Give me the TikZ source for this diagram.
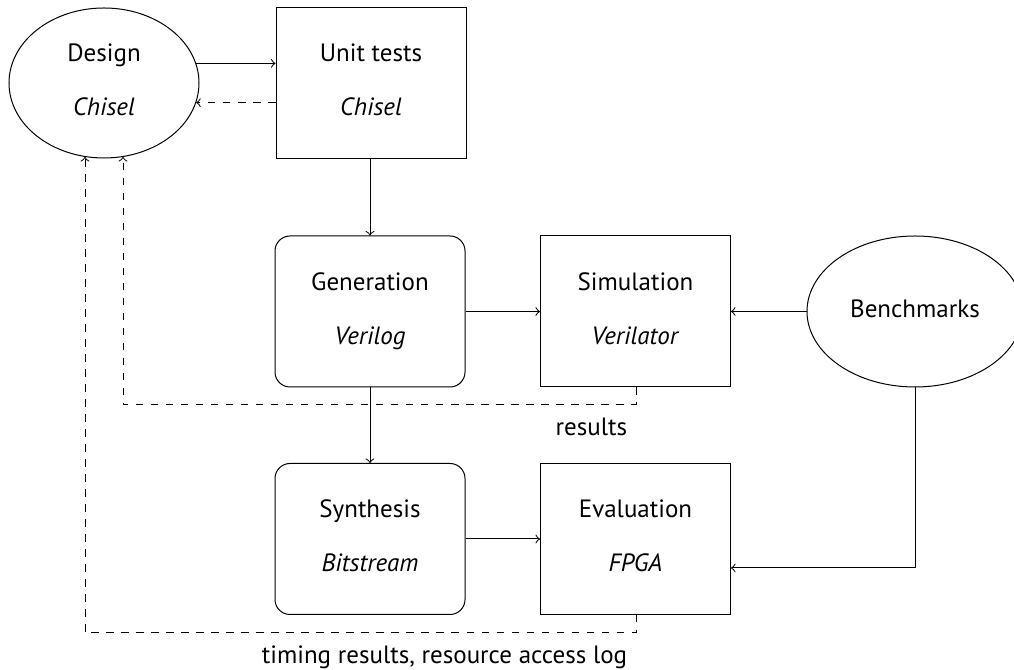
\documentclass[tikz,border=0pt]{standalone}
\usepackage{fontspec}
\setmainfont{PT Sans}
\usetikzlibrary{shapes.geometric,calc}
\begin{document}
\begin{tikzpicture}[x=0.4pt,y=-0.4pt,
  base/.style={draw,align=center,minimum width=76pt,minimum height=60.4pt,inner sep=2pt,font=\fontsize{10}{12}\selectfont},
  sqbox/.style={base},
  rbox/.style={base,rounded corners=6pt},
  ell/.style={base,ellipse},
  lbl/.style={font=\fontsize{10}{12}\selectfont,anchor=north east,yshift=-1.6pt},
  arr/.style={->},
  fb/.style={->,dashed}]
\useasboundingbox (0,0) rectangle (1014,670);
\node[ell,minimum height=60pt] (design) at (104,83) {\strut Design\\[9.6pt]\textit{Chisel}\strut};
\node[sqbox] (unit) at (371,83) {\strut Unit tests\\[9.6pt]\textit{Chisel}\strut};
\node[rbox] (gen) at (370,311.5) {\strut Generation\\[9.6pt]\textit{Verilog}\strut};
\node[sqbox] (sim) at (635.5,311.5) {\strut Simulation\\[9.6pt]\textit{Verilator}\strut};
\node[ell,minimum width=86.4pt] (bench) at (915,311.5) {\strut Benchmarks\strut};
\node[rbox] (syn) at (370,539) {\strut Synthesis\\[9.6pt]\textit{Bitstream}\strut};
\node[sqbox] (eval) at (635.5,539) {\strut Evaluation\\[9.6pt]\textit{FPGA}\strut};
% coordinates
\coordinate (c1) at (636,405);
\coordinate (c2) at (636,633);
\coordinate (d1) at ($(design.south)+(19,-1.5)$);
\coordinate (d2) at ($(design.south)+(-19,-1.5)$);
% connectors
\draw[arr] (design.12) -- (design.12 -| unit.west);
\draw[fb] (unit.west |- design.-12) -- (design.-12);
\draw[arr] (unit.south -| 370,0) -- (gen.north);
\draw[arr] (gen.east) -- (sim.west);
\draw[arr] (bench.west) -- (sim.east);
\draw[arr] (gen.south) -- (syn.north);
\draw[arr] (syn.east) -- (eval.east -| eval.west);
\draw[arr] (bench.south) |- ($(eval.east)+(0,29)$);
\draw[fb] (sim.south -| c1) -- (c1) -| (d1);
\draw[fb] (eval.south -| c2) -- (c2) -| (d2);
\node[lbl] (lr) at (c1) {results};
\node[lbl] (lt) at (c2) {timing results, resource access log};
\end{tikzpicture}
\end{document}
